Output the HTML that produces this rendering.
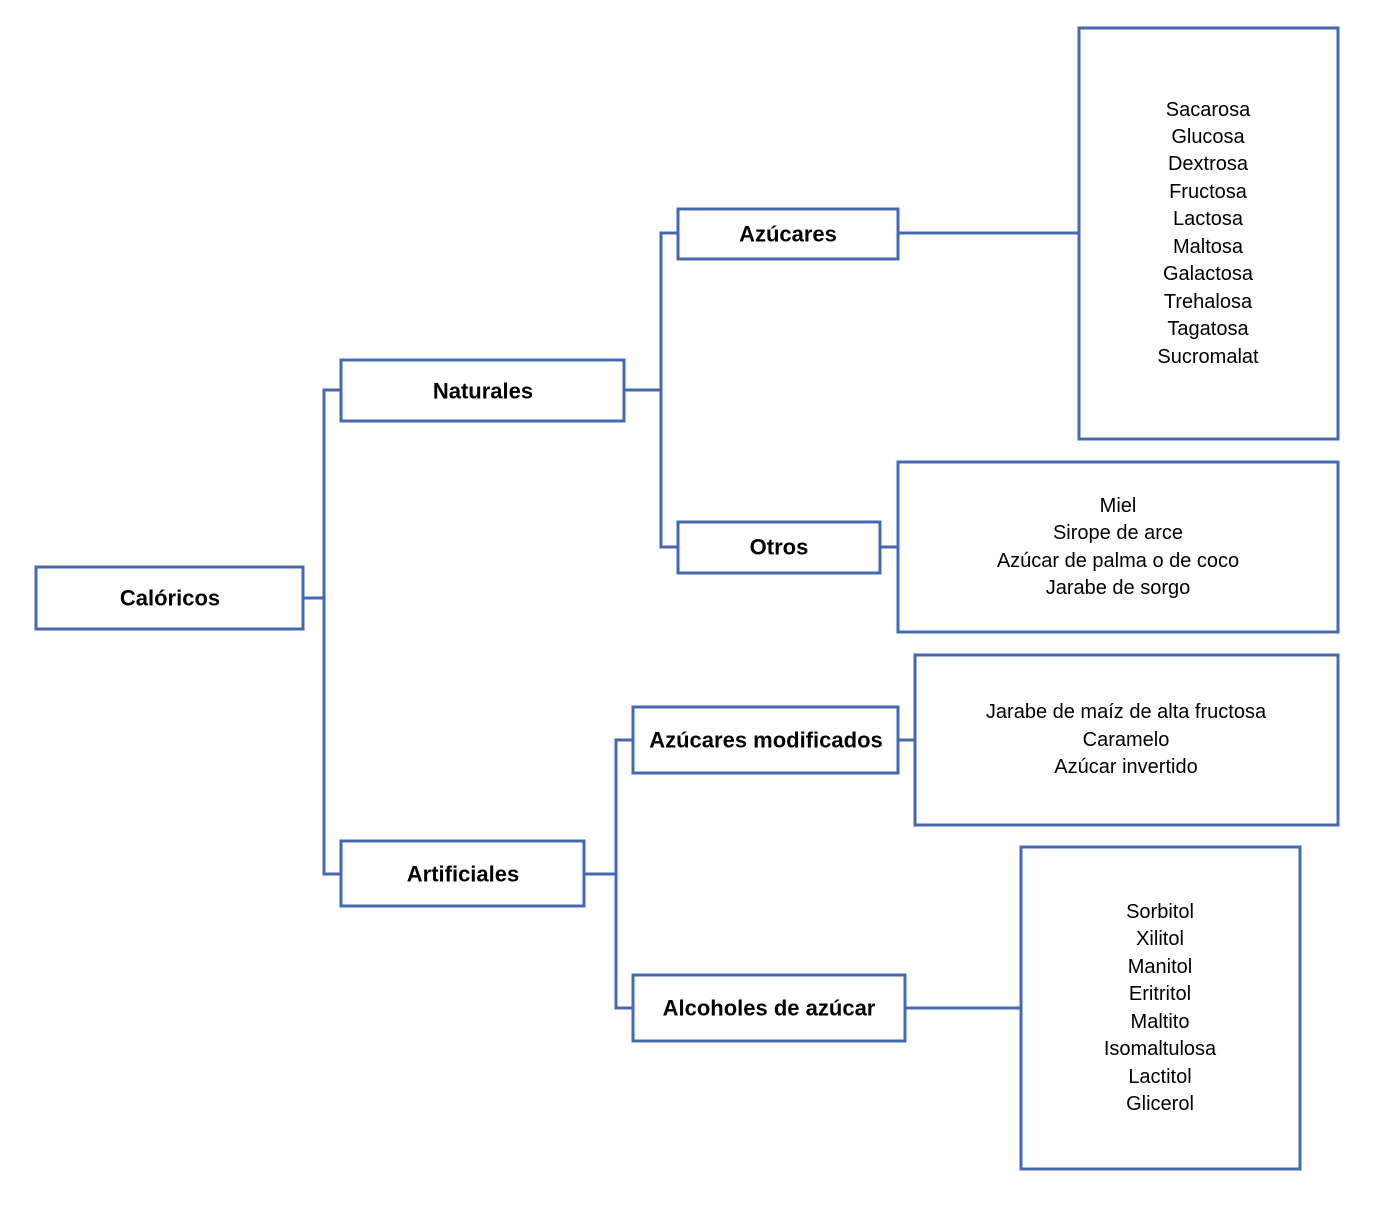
<!DOCTYPE html>
<html><head><meta charset="utf-8"><style>html,body{margin:0;padding:0;background:#fff}</style></head>
<body>
<svg width="1373" height="1213" xmlns="http://www.w3.org/2000/svg" style="display:block">
<g fill="#fff" stroke="#4569b0" stroke-width="3">
<rect x="36" y="567" width="267" height="62"/>
<rect x="341" y="360" width="283" height="61"/>
<rect x="341" y="841" width="243" height="65"/>
<rect x="678" y="209" width="220" height="50"/>
<rect x="678" y="522" width="202" height="51"/>
<rect x="633" y="707" width="265" height="66"/>
<rect x="633" y="975" width="272" height="66"/>
<rect x="1079" y="28" width="259" height="411"/>
<rect x="898" y="462" width="440" height="170"/>
<rect x="915" y="655" width="423" height="170"/>
<rect x="1021" y="847" width="279" height="322"/>
</g>
<g fill="none" stroke="#4569b0" stroke-width="3">
<path d="M304 598H324M341 390H324V874H341"/>
<path d="M625 390H661M678 233H661V547H678"/>
<path d="M899 233H1078M881 547H897"/>
<path d="M585 874H616M633 740H616V1008H633"/>
<path d="M899 740H914M906 1008H1020"/>
</g>
<g font-family="Liberation Sans, sans-serif" font-weight="bold" font-size="22" text-anchor="middle" dominant-baseline="central" fill="#000">
<text x="170" y="598">Calóricos</text>
<text x="483" y="391">Naturales</text>
<text x="463" y="874">Artificiales</text>
<text x="788" y="234">Azúcares</text>
<text x="779" y="547">Otros</text>
<text x="766" y="740">Azúcares modificados</text>
<text x="769" y="1008">Alcoholes de azúcar</text>
</g>
<g font-family="Liberation Sans, sans-serif" font-size="20" text-anchor="middle" dominant-baseline="central" fill="#000">
<text x="1208" y="110">Sacarosa</text>
<text x="1208" y="137">Glucosa</text>
<text x="1208" y="164">Dextrosa</text>
<text x="1208" y="192">Fructosa</text>
<text x="1208" y="219">Lactosa</text>
<text x="1208" y="247">Maltosa</text>
<text x="1208" y="274">Galactosa</text>
<text x="1208" y="302">Trehalosa</text>
<text x="1208" y="329">Tagatosa</text>
<text x="1208" y="357">Sucromalat</text>
<text x="1118" y="506">Miel</text>
<text x="1118" y="533">Sirope de arce</text>
<text x="1118" y="561">Azúcar de palma o de coco</text>
<text x="1118" y="588">Jarabe de sorgo</text>
<text x="1126" y="712">Jarabe de maíz de alta fructosa</text>
<text x="1126" y="740">Caramelo</text>
<text x="1126" y="767">Azúcar invertido</text>
<text x="1160" y="912">Sorbitol</text>
<text x="1160" y="939">Xilitol</text>
<text x="1160" y="967">Manitol</text>
<text x="1160" y="994">Eritritol</text>
<text x="1160" y="1022">Maltito</text>
<text x="1160" y="1049">Isomaltulosa</text>
<text x="1160" y="1077">Lactitol</text>
<text x="1160" y="1104">Glicerol</text>
</g>
</svg>
</body></html>
